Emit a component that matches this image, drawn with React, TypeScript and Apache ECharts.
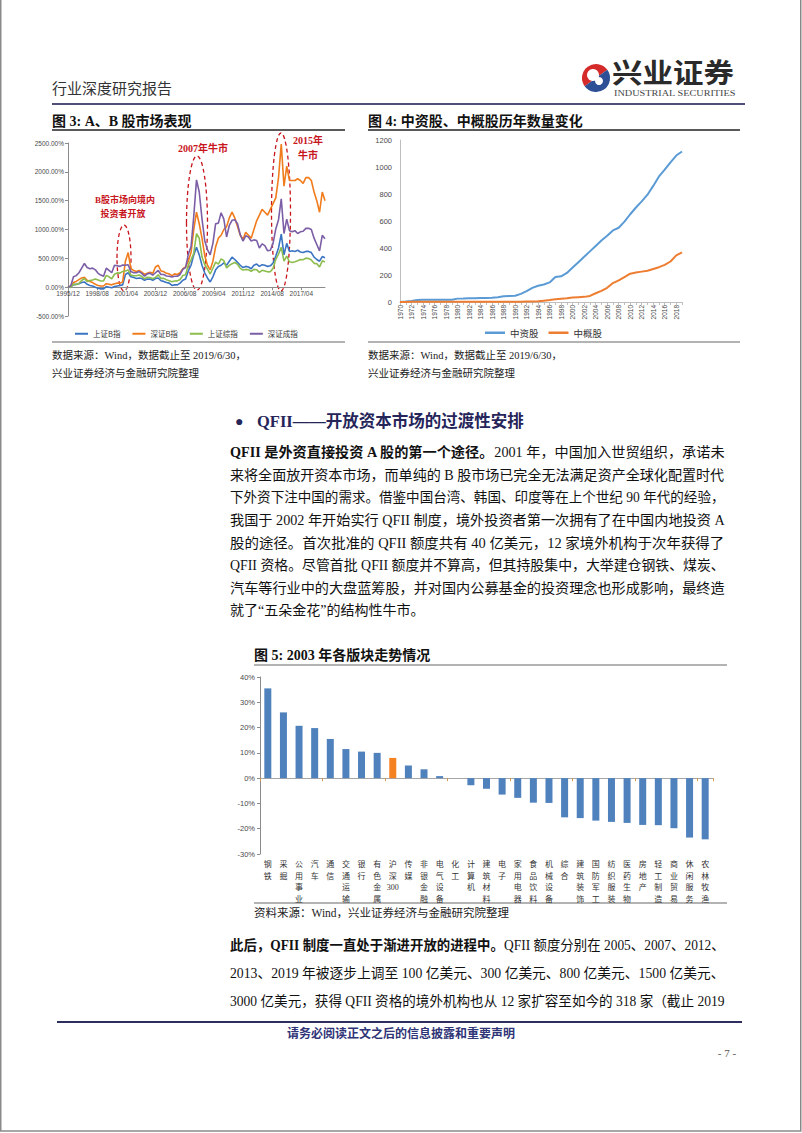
import React, { useEffect, useRef } from "react";
import * as echarts from "echarts";

// ---------------- DATA ----------------
// Figure 3: A/B share index performance (cumulative %, quarterly samples from 1995/12 to 2019/06)
const fig3SeriesNames = ["上证B指", "深证B指", "上证综指", "深证成指"];
const fig3XLabels = ["1995/12", "1998/08", "2001/04", "2003/12", "2006/08", "2009/04", "2011/12", "2014/08", "2017/04"];
const fig3StartYear = 1995;
const fig3StartMonth = 12;
const fig3MonthCount = 283; // 1995/12 .. 2019/06
const fig3YMin = -500;
const fig3YMax = 2500;
const fig3ShB = [
  0, 10, 40, 50, 60, 80, 90, 50, 30, 20,
  0, -20, -30, -30, 10, 0, -10, 10, 20, 30,
  40, 220, 250, 180, 170, 150, 160, 150, 120, 140,
  140, 120, 150, 160, 110, 100, 80, 70, 30, 40,
  40, 70, 120, 140, 280, 380, 560, 690, 560, 380,
  250, 160, 90, 180, 300, 360, 380, 420, 380, 450,
  520, 480, 430, 380, 340, 360, 350, 320, 380, 400,
  360, 390, 380, 360, 370, 420, 540, 680, 920, 560,
  760, 620, 630, 620, 640, 610, 600, 620, 620, 600,
  520, 480, 450, 530, 510,
];
const fig3SzB = [
  0, 20, 80, 100, 130, 160, 170, 120, 100, 80,
  50, 30, 20, 20, 60, 50, 40, 60, 70, 70,
  90, 450, 600, 320, 290, 270, 290, 260, 220, 240,
  260, 240, 350, 380, 280, 270, 240, 230, 200, 230,
  220, 250, 320, 350, 450, 600, 1000, 1300, 1100, 850,
  550, 380, 300, 450, 700, 850, 900, 1000, 1050, 1200,
  1300, 1200, 1050, 900, 830, 950, 900, 850, 1000, 1150,
  1250, 1350, 1300, 1250, 1350, 1450, 1550, 1900, 2480, 1750,
  2100, 1850, 1850, 1850, 1880, 1850, 1800, 1900, 1900, 1850,
  1650, 1500, 1300, 1650, 1500,
];
const fig3Sh = [
  0, -3, 53, 44, 65, 116, 150, 98, 115, 124,
  141, 124, 107, 109, 205, 180, 146, 224, 247, 244,
  273, 280, 300, 210, 197, 199, 212, 185, 145, 172,
  168, 146, 170, 214, 152, 152, 128, 113, 95, 108,
  109, 134, 201, 216, 382, 474, 588, 930, 848, 526,
  393, 313, 228, 328, 433, 401, 490, 460, 332, 378,
  406, 428, 398, 325, 296, 308, 301, 276, 309, 303,
  257, 292, 281, 266, 269, 326, 483, 575, 690, 450,
  538, 441, 428, 441, 459, 480, 475, 503, 496, 471,
  413, 408, 349, 457, 437,
];
const fig3Sz = [
  0, 22, 180, 200, 250, 330, 410, 340, 320, 330,
  300, 240, 210, 190, 330, 290, 250, 380, 370, 360,
  385, 380, 390, 270, 250, 250, 270, 240, 190, 230,
  240, 210, 250, 290, 220, 220, 195, 190, 175, 190,
  190, 220, 310, 340, 570, 700, 1230, 1860, 1650, 1190,
  810, 650, 560, 760, 1100, 1110, 1290, 1180, 870, 1070,
  1160, 1170, 1100, 910, 800, 890, 870, 800, 820, 810,
  680, 750, 720, 630, 640, 760, 1010, 1170, 1530, 930,
  1180, 980, 960, 980, 930, 960, 970, 1020, 1020, 1000,
  850, 740, 630, 900, 840,
];

// Figure 4: number of Chinese-funded / China-concept stocks by year
const fig4Years = [
  "1970", "1971", "1972", "1973", "1974", "1975", "1976", "1977", "1978", "1979",
  "1980", "1981", "1982", "1983", "1984", "1985", "1986", "1987", "1988", "1989",
  "1990", "1991", "1992", "1993", "1994", "1995", "1996", "1997", "1998", "1999",
  "2000", "2001", "2002", "2003", "2004", "2005", "2006", "2007", "2008", "2009",
  "2010", "2011", "2012", "2013", "2014", "2015", "2016", "2017", "2018", "2019",
];
const fig4SeriesNames = ["中资股", "中概股"];
const fig4Chinese = [
  0, 3, 8, 15, 16, 16, 16, 16, 16, 17,
  25, 26, 28, 28, 29, 29, 32, 36, 42, 44,
  46, 60, 80, 105, 120, 130, 145, 185, 190, 215,
  255, 295, 335, 375, 415, 455, 490, 530, 550, 595,
  650, 700, 745, 795, 860, 930, 980, 1035, 1085, 1115,
];
const fig4Concept = [
  0, 0, 1, 2, 2, 2, 2, 2, 2, 2,
  2, 2, 2, 2, 2, 2, 2, 2, 2, 2,
  2, 2, 3, 4, 6, 10, 14, 20, 24, 27,
  34, 36, 38, 45, 65, 82, 105, 140, 160, 185,
  210, 218, 225, 232, 245, 258, 275, 300, 345, 368,
];

// Figure 5: 2003 sector performance
const fig5Sectors = [
  "钢铁", "采掘", "公用事业", "汽车", "通信", "交通运输", "银行", "有色金属", "沪深300", "传媒",
  "非银金融", "电气设备", "化工", "计算机", "建筑材料", "电子", "家用电器", "食品饮料", "机械设备", "综合",
  "建筑装饰", "国防军工", "纺织服装", "医药生物", "房地产", "轻工制造", "商业贸易", "休闲服务", "农林牧渔",
];
const fig5Returns = [
  35.5, 26, 20.7, 19.8, 15.5, 11.5, 10.5, 10, 8, 5,
  3.5, 0.8, 0, -2.8, -4.2, -6.5, -7.8, -9.7, -9.8, -15.5,
  -15.8, -16.8, -17.3, -17.7, -18.5, -18.6, -19.8, -23.5, -24.2,
];
const fig5Highlight = "沪深300";

// Page text
const para1 = [
  [{ t: "QFII 是外资直接投资 A 股的第一个途径。", b: true }, { t: "2001 年，中国加入世贸组织，承诺未" }],
  [{ t: "来将全面放开资本市场，而单纯的 B 股市场已完全无法满足资产全球化配置时代" }],
  [{ t: "下外资下注中国的需求。借鉴中国台湾、韩国、印度等在上个世纪 90 年代的经验，" }],
  [{ t: "我国于 2002 年开始实行 QFII 制度，境外投资者第一次拥有了在中国内地投资 A" }],
  [{ t: "股的途径。首次批准的 QFII 额度共有 40 亿美元，12 家境外机构于次年获得了" }],
  [{ t: "QFII 资格。尽管首批 QFII 额度并不算高，但其持股集中，大举建仓钢铁、煤炭、" }],
  [{ t: "汽车等行业中的大盘蓝筹股，并对国内公募基金的投资理念也形成影响，最终造" }],
  [{ t: "就了“五朵金花”的结构性牛市。" }],
];
const para2 = [
  [{ t: "此后，QFII 制度一直处于渐进开放的进程中。", b: true }, { t: "QFII 额度分别在 2005、2007、2012、" }],
  [{ t: "2013、2019 年被逐步上调至 100 亿美元、300 亿美元、800 亿美元、1500 亿美元、" }],
  [{ t: "3000 亿美元，获得 QFII 资格的境外机构也从 12 家扩容至如今的 318 家（截止 2019" }],
];

// ---------------- STYLE ----------------
const SERIF = "'Liberation Serif', 'Noto Sans CJK SC', serif";
const SANS = "'Liberation Sans', 'Noto Sans CJK SC', sans-serif";
const CJK = "'Noto Sans CJK SC', sans-serif";
const C3 = ["#3b74c2", "#f07c1c", "#8dbd4e", "#7b5ea6"];
const C4 = ["#5b9bd5", "#ed7d31"];
const BAR_BLUE = "#4f81bd";
const BAR_ORANGE = "#f58220";
const RED = "#c8161d";
const NAVY = "#25255a";

const GRID3 = { left: 68, top: 143, width: 257, height: 173 };

let measureCtx: CanvasRenderingContext2D | null = null;
function measure(text: string, font: string) {
  if (!measureCtx) measureCtx = document.createElement("canvas").getContext("2d");
  if (!measureCtx) return text.length * 14;
  measureCtx.font = font;
  return measureCtx.measureText(text).width;
}

function monthLabel(m: number) {
  const total = fig3StartYear * 12 + (fig3StartMonth - 1) + m;
  const y = Math.floor(total / 12);
  const mo = (total % 12) + 1;
  return `${y}/${mo < 10 ? "0" + mo : mo}`;
}
const fig3Months = Array.from({ length: fig3MonthCount }, (_, m) => monthLabel(m));

function txt(x: number, y: number, text: string, o: any = {}) {
  return {
    type: "text",
    x,
    y,
    scaleX: o.scaleX || 1,
    silent: true,
    style: {
      text,
      fill: o.fill || "#222",
      fontSize: o.fontSize || 12,
      fontFamily: o.fontFamily || SERIF,
      fontWeight: o.fontWeight || "normal",
      align: o.align || "left",
      verticalAlign: "middle",
    },
  };
}
function hline(x1: number, x2: number, y: number, stroke: string, lineWidth = 1) {
  return { type: "line", silent: true, shape: { x1, y1: y, x2, y2: y }, style: { stroke, lineWidth } };
}

function paraLine(x: number, y: number, segs: any[], width: number, justify: boolean) {
  const fs = 14;
  let w = 0;
  segs.forEach((s) => {
    w += measure(s.t, `${s.b ? "bold " : ""}${fs}px ${SERIF}`);
  });
  let sx = justify ? width / w : 1;
  sx = Math.max(0.88, Math.min(1.12, sx));
  const text = segs.map((s) => `{${s.b ? "b" : "n"}|${s.t}}`).join("");
  return {
    type: "text",
    x,
    y,
    scaleX: sx,
    silent: true,
    style: {
      text,
      verticalAlign: "middle",
      rich: {
        b: { fontSize: fs, fontFamily: SERIF, fontWeight: "bold", fill: "#111" },
        n: { fontSize: fs, fontFamily: SERIF, fontWeight: "normal", fill: "#111" },
      },
    },
  };
}

function verticalLabel(s: string) {
  return (s.match(/\d+|./g) || []).join("\n");
}

function buildGraphic() {
  const g: any[] = [];
  // page frame
  g.push({ type: "rect", silent: true, shape: { x: 0.75, y: -5, width: 800, height: 1136 }, style: { fill: "none", stroke: "#8a8a8a", lineWidth: 1.5 } });
  // header
  g.push(txt(52, 87, "行业深度研究报告", { fontSize: 15, fontFamily: CJK, fill: "#333" }));
  // logo
  g.push({ type: "sector", silent: true, shape: { cx: 596, cy: 78, r: 14, r0: 0, startAngle: Math.PI * 0.8, endAngle: Math.PI * 1.8 }, style: { fill: "#d42a2a" } });
  g.push({ type: "sector", silent: true, shape: { cx: 596, cy: 78, r: 14, r0: 0, startAngle: -Math.PI * 0.2, endAngle: Math.PI * 0.8 }, style: { fill: "#2c4f96" } });
  g.push({ type: "circle", silent: true, shape: { cx: 593, cy: 75, r: 6 }, style: { fill: "#fff" } });
  g.push({ type: "circle", silent: true, shape: { cx: 599, cy: 81, r: 4 }, style: { fill: "#fff" } });
  g.push(txt(612, 71, "兴业证券", { fontSize: 27, fontFamily: CJK, fontWeight: "bold", fill: "#2a2a2a", scaleX: 1.13 }));
  g.push(txt(614, 93, "INDUSTRIAL SECURITIES", { fontSize: 8, fontFamily: SERIF, fill: "#444", scaleX: 1.28 }));
  g.push(hline(52, 745, 104, "#50507a", 2));

  // figure titles
  g.push(txt(52, 121, "图 3: A、B 股市场表现", { fontSize: 14, fontWeight: "bold", fill: "#111" }));
  g.push(txt(368, 121, "图 4: 中资股、中概股历年数量变化", { fontSize: 14, fontWeight: "bold", fill: "#111" }));
  g.push(hline(52, 345, 130, "#222", 1.5));
  g.push(hline(368, 740, 130, "#222", 1.5));
  g.push(hline(52, 345, 342, "#9a9a9a", 1.5));
  g.push(hline(368, 740, 342, "#9a9a9a", 1.5));

  // fig 3 annotations
  g.push({ type: "ellipse", silent: true, shape: { cx: 124, cy: 258, rx: 7, ry: 33 }, style: { fill: "none", stroke: RED, lineWidth: 1.3, lineDash: [4, 3] } });
  g.push({ type: "ellipse", silent: true, shape: { cx: 197, cy: 223, rx: 10.5, ry: 67 }, style: { fill: "none", stroke: RED, lineWidth: 1.3, lineDash: [4, 3] } });
  g.push({ type: "ellipse", silent: true, shape: { cx: 281, cy: 212, rx: 9.5, ry: 79 }, style: { fill: "none", stroke: RED, lineWidth: 1.3, lineDash: [4, 3] } });
  g.push(txt(203, 148, "2007年牛市", { fontSize: 10, fontWeight: "bold", fill: RED, align: "center" }));
  g.push(txt(308, 140, "2015年", { fontSize: 10, fontWeight: "bold", fill: RED, align: "center" }));
  g.push(txt(308, 155, "牛市", { fontSize: 10, fontWeight: "bold", fill: RED, align: "center" }));
  g.push(txt(125, 200, "B股市场向境内", { fontSize: 9, fontWeight: "bold", fill: RED, align: "center" }));
  g.push(txt(123, 214, "投资者开放", { fontSize: 9, fontWeight: "bold", fill: RED, align: "center" }));

  // sources under fig 3 / 4
  g.push(txt(52, 355, "数据来源：Wind，数据截止至 2019/6/30，", { fontSize: 10.5 }));
  g.push(txt(52, 373, "兴业证券经济与金融研究院整理", { fontSize: 10.5 }));
  g.push(txt(368, 355, "数据来源：Wind，数据截止至 2019/6/30，", { fontSize: 10.5 }));
  g.push(txt(368, 373, "兴业证券经济与金融研究院整理", { fontSize: 10.5 }));

  // section header
  g.push(txt(235, 421, "●", { fontSize: 14, fill: NAVY, fontFamily: SANS }));
  g.push(txt(257, 421, "QFII——开放资本市场的过渡性安排", { fontSize: 16.5, fontWeight: "bold", fill: NAVY }));

  // paragraph 1
  para1.forEach((segs, i) => g.push(paraLine(230, 452 + i * 22.7, segs, 495, i < para1.length - 1)));

  // fig 5 title and source
  g.push(txt(254, 655, "图 5: 2003 年各版块走势情况", { fontSize: 14, fontWeight: "bold", fill: "#111" }));
  g.push(hline(254, 727, 665, "#9a9a9a", 1.5));
  g.push(hline(254, 727, 903, "#9a9a9a", 1.5));
  g.push(txt(254, 913, "资料来源：Wind，兴业证券经济与金融研究院整理", { fontSize: 11.5 }));

  // paragraph 2
  para2.forEach((segs, i) => g.push(paraLine(230, 945 + i * 28, segs, 495, true)));

  // footer
  g.push(hline(57, 742, 1022, "#2e2e5e", 2));
  g.push(txt(401, 1032, "请务必阅读正文之后的信息披露和重要声明", { fontSize: 12, fontWeight: "bold", fontFamily: CJK, fill: "#2f3477", align: "center" }));
  g.push(txt(727, 1053, "- 7 -", { fontSize: 11, fill: "#555", align: "center" }));
  return g;
}

function buildOption(): any {
  const axisGrey = "#8c8c8c";
  const labelGrey = "#4a4a4a";
  // place the fig-3 category axis on the 0% line (offset from grid bottom, negative = upward)
  const fig3ZeroOffset = -GRID3.height * ((0 - fig3YMin) / (fig3YMax - fig3YMin));
  return {
    animation: false,
    backgroundColor: "#fff",
    grid: [
      GRID3,
      { left: 400, top: 140, width: 282, height: 162 },
      { left: 260, top: 677, width: 453, height: 177 },
    ],
    legend: [
      {
        data: fig3SeriesNames,
        left: 70,
        top: 325,
        icon: "rect",
        itemWidth: 13,
        itemHeight: 2,
        itemGap: 12,
        selectedMode: false,
        textStyle: { fontSize: 7.5, color: "#333", fontFamily: CJK },
      },
      {
        data: fig4SeriesNames,
        left: 480,
        top: 323,
        icon: "rect",
        itemWidth: 20,
        itemHeight: 2.5,
        itemGap: 10,
        selectedMode: false,
        textStyle: { fontSize: 9.5, color: "#333", fontFamily: CJK },
      },
    ],
    xAxis: [
      {
        type: "category",
        gridIndex: 0,
        position: "bottom",
        offset: fig3ZeroOffset,
        data: fig3Months,
        boundaryGap: false,
        axisLine: { show: true, onZero: false, lineStyle: { color: axisGrey } },
        axisTick: { show: true, length: 3, interval: 31, lineStyle: { color: axisGrey } },
        splitLine: { show: false },
        axisLabel: {
          interval: 31,
          fontSize: 6.5,
          color: labelGrey,
          fontFamily: SANS,
          margin: 3,
          formatter: (v: string, idx: number) => (idx % 32 === 0 ? fig3XLabels[idx / 32] || v : ""),
        },
      },
      {
        type: "category",
        gridIndex: 1,
        data: fig4Years,
        boundaryGap: false,
        axisLine: { show: true, lineStyle: { color: "#bfbfbf" } },
        axisTick: { show: true, length: 3, interval: 0, lineStyle: { color: "#bfbfbf" } },
        axisLabel: { rotate: 90, interval: 1, fontSize: 6.5, color: labelGrey, fontFamily: SANS, margin: 3 },
      },
      {
        type: "category",
        gridIndex: 2,
        position: "bottom",
        data: fig5Sectors,
        axisLine: { show: true, onZero: true, lineStyle: { color: "#a6a6a6" } },
        axisTick: { show: true, length: 3, lineStyle: { color: "#d19a4f" } },
        axisLabel: { show: false },
      },
      {
        type: "category",
        gridIndex: 2,
        position: "bottom",
        data: fig5Sectors.map(verticalLabel),
        axisLine: { show: false, onZero: false },
        axisTick: { show: false },
        axisLabel: { interval: 0, fontSize: 8, lineHeight: 11.5, color: "#333", fontFamily: SERIF, margin: 5, verticalAlign: "top" },
      },
    ],
    yAxis: [
      {
        type: "value",
        gridIndex: 0,
        min: fig3YMin,
        max: fig3YMax,
        interval: 500,
        axisLine: { show: true, onZero: false, lineStyle: { color: axisGrey } },
        axisTick: { show: true, length: 3, lineStyle: { color: axisGrey } },
        splitLine: { show: false },
        axisLabel: { fontSize: 6.5, color: labelGrey, fontFamily: SANS, margin: 4, formatter: (v: number) => v.toFixed(2) + "%" },
      },
      {
        type: "value",
        gridIndex: 1,
        min: 0,
        max: 1200,
        interval: 200,
        axisLine: { show: true, lineStyle: { color: "#bfbfbf" } },
        axisTick: { show: false },
        splitLine: { show: false },
        axisLabel: { fontSize: 7.5, color: labelGrey, fontFamily: SANS, margin: 8, formatter: (v: number) => String(v) },
      },
      {
        type: "value",
        gridIndex: 2,
        min: -30,
        max: 40,
        interval: 10,
        axisLine: { show: true, lineStyle: { color: "#8c8c8c" } },
        axisTick: { show: true, length: 3, lineStyle: { color: "#8c8c8c" } },
        splitLine: { show: false },
        axisLabel: { fontSize: 7.5, color: labelGrey, fontFamily: SANS, margin: 5, formatter: (v: number) => v + "%" },
      },
    ],
    series: [
      ...[fig3ShB, fig3SzB, fig3Sh, fig3Sz].map((arr, k) => ({
        name: fig3SeriesNames[k],
        type: "line",
        xAxisIndex: 0,
        yAxisIndex: 0,
        showSymbol: false,
        symbol: "none",
        color: C3[k],
        lineStyle: { width: 1.6, color: C3[k] },
        data: arr.map((v, i) => [i * 3, v]),
      })),
      ...[fig4Chinese, fig4Concept].map((arr, k) => ({
        name: fig4SeriesNames[k],
        type: "line",
        xAxisIndex: 1,
        yAxisIndex: 1,
        showSymbol: false,
        symbol: "none",
        color: C4[k],
        lineStyle: { width: 2, color: C4[k] },
        data: arr,
      })),
      {
        name: "2003年涨跌幅",
        type: "bar",
        xAxisIndex: 2,
        yAxisIndex: 2,
        barWidth: 7,
        data: fig5Returns.map((v, i) => ({
          value: v,
          itemStyle: { color: fig5Sectors[i] === fig5Highlight ? BAR_ORANGE : BAR_BLUE },
        })),
      },
    ],
    graphic: buildGraphic(),
  };
}

export default function App() {
  const ref = useRef<HTMLDivElement>(null);
  useEffect(() => {
    if (!ref.current) return;
    const chart = echarts.init(ref.current, null, { renderer: "svg" });
    chart.setOption(buildOption());
    return () => chart.dispose();
  }, []);
  return (
    <div
      ref={ref}
      style={{ position: "absolute", left: 0, top: 0, width: 802, height: 1133, background: "#fff" }}
    />
  );
}
